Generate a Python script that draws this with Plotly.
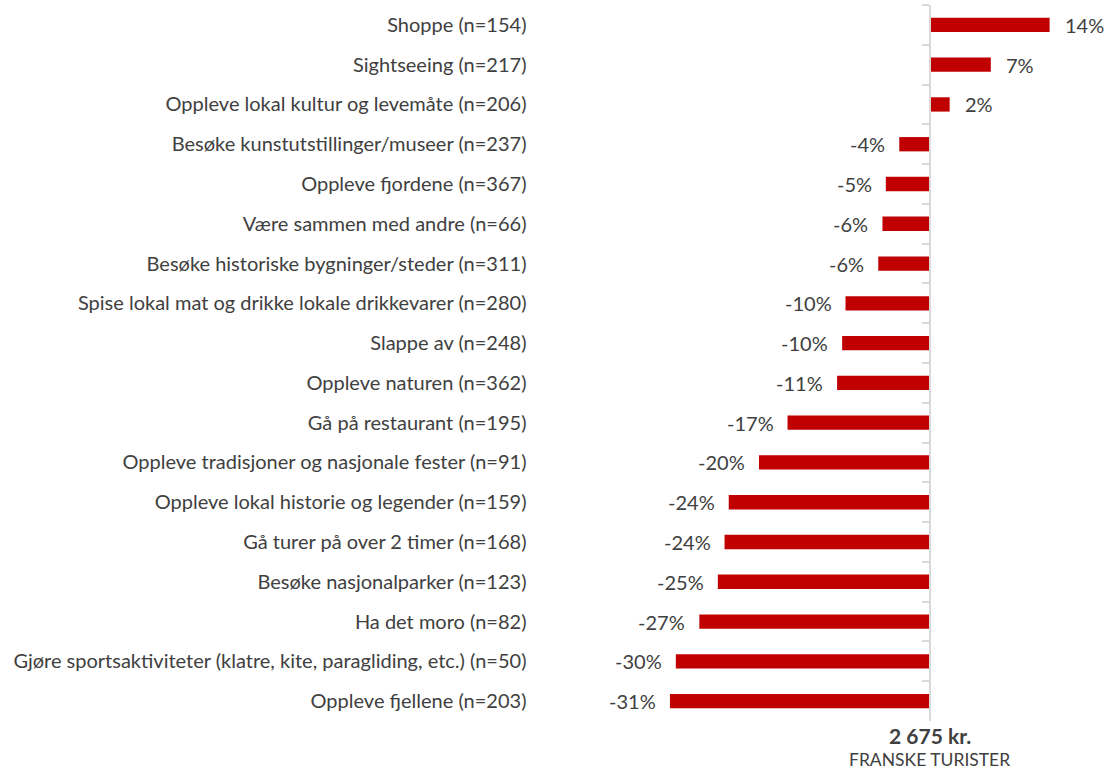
import plotly.graph_objects as go

categories = [
    "Shoppe (n=154)",
    "Sightseeing (n=217)",
    "Oppleve lokal kultur og levemåte (n=206)",
    "Besøke kunstutstillinger/museer (n=237)",
    "Oppleve fjordene (n=367)",
    "Være sammen med andre (n=66)",
    "Besøke historiske bygninger/steder (n=311)",
    "Spise lokal mat og drikke lokale drikkevarer (n=280)",
    "Slappe av (n=248)",
    "Oppleve naturen (n=362)",
    "Gå på restaurant (n=195)",
    "Oppleve tradisjoner og nasjonale fester (n=91)",
    "Oppleve lokal historie og legender (n=159)",
    "Gå turer på over 2 timer (n=168)",
    "Besøke nasjonalparker (n=123)",
    "Ha det moro (n=82)",
    "Gjøre sportsaktiviteter (klatre, kite, paragliding, etc.) (n=50)",
    "Oppleve fjellene (n=203)",
]
values = [14.3, 7.3, 2.4, -3.6, -5.2, -5.6, -6.1, -10.0, -10.4, -11.0,
          -16.9, -20.3, -23.9, -24.4, -25.2, -27.4, -30.2, -30.9]
value_labels = ["14%", "7%", "2%", "-4%", "-5%", "-6%", "-6%", "-10%", "-10%", "-11%",
                "-17%", "-20%", "-24%", "-24%", "-25%", "-27%", "-30%", "-31%"]
total_label = "2 675 kr."
group_label = "FRANSKE TURISTER"

RED = "#C00000"
TXT = "#404040"
GRID = "#D9D9D9"
FONT = "Lato"

W, H = 1105, 770
ML, MR, MT, MB = 540, 15, 5, 49
zero_px = 929.5
px_per_unit = 8.4
plot_w = W - ML - MR
x_lo = -(zero_px - ML) / px_per_unit
x_hi = (W - MR - zero_px) / px_per_unit
axis_pos = (zero_px - ML) / plot_w

fig = go.Figure()
fig.add_trace(go.Bar(
    x=values, y=categories, orientation="h",
    marker=dict(color=RED, line=dict(width=0)),
    width=0.36,
    hoverinfo="skip",
))

annotations = []
for c, v, t in zip(categories, values, value_labels):
    annotations.append(dict(
        x=v, y=c, xref="x", yref="y", text=t, showarrow=False,
        xanchor="left" if v >= 0 else "right",
        xshift=13 if v >= 0 else -12,
        font=dict(family=FONT, size=20, color=TXT),
    ))
annotations.append(dict(
    x=0, y=0, xref="x", yref="paper", yanchor="top", yshift=-1,
    text="<b>" + total_label + "</b>", showarrow=False,
    font=dict(family=FONT, size=21, color=TXT), borderpad=0,
))
annotations.append(dict(
    x=0, y=0, xref="x", yref="paper", yanchor="middle", yshift=-38,
    text=group_label, showarrow=False,
    font=dict(family=FONT, size=17.5, color=TXT), borderpad=0,
))

fig.update_layout(
    width=W, height=H,
    margin=dict(l=ML, r=MR, t=MT, b=MB),
    paper_bgcolor="white", plot_bgcolor="white",
    showlegend=False,
    annotations=annotations,
    xaxis=dict(range=[x_lo, x_hi], visible=False, showgrid=False, zeroline=False),
    yaxis=dict(
        type="category",
        categoryorder="array", categoryarray=categories,
        autorange="reversed",
        anchor="free", position=axis_pos,
        showline=True, linecolor=GRID, linewidth=2,
        ticks="outside", tickson="boundaries", ticklen=7, tickcolor=GRID, tickwidth=1.5,
        ticklabelstandoff=398,
        tickfont=dict(family=FONT, size=20, color=TXT),
        showgrid=False, zeroline=False,
        automargin=False,
    ),
)

fig.write_html("out.html", config={"displayModeBar": False},
               post_script="document.body.style.margin='0';")
